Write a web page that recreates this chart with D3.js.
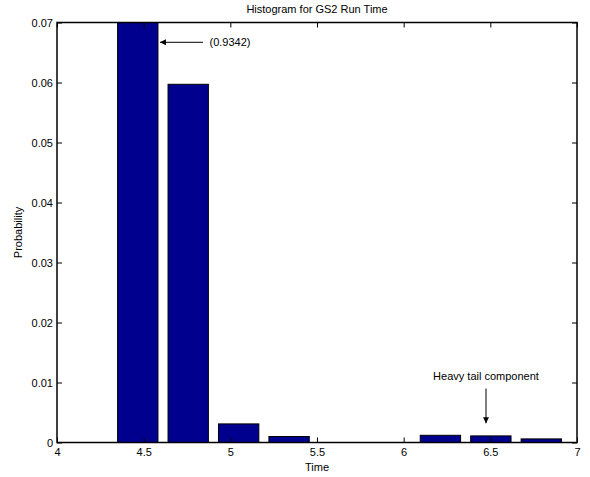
<!DOCTYPE html>
<html>
<head>
<meta charset="utf-8">
<script src="https://cdn.jsdelivr.net/npm/d3@7"></script>
<style>
  body { margin: 0; background: #fff; }
  svg { display: block; font-family: "Liberation Sans", Arial, Helvetica, sans-serif; }
</style>
</head>
<body>
<svg id="chart" width="590" height="477"></svg>
<script>
// bin centres and probabilities (second bin is really 0.9342, clipped by the axis)
const binCenters = [4.175, 4.466, 4.757, 5.048, 5.339, 5.63, 5.921, 6.212, 6.503, 6.794];
const probs = [0.0, 0.9342, 0.0597, 0.0031, 0.001, 0.0, 0.0, 0.0012, 0.0011, 0.0006];
const xTicks = [4, 4.5, 5, 5.5, 6, 6.5, 7];
const yTicks = [0, 0.01, 0.02, 0.03, 0.04, 0.05, 0.06, 0.07];

const W = 590, H = 477;
const margin = { top: 22.5, right: 13, bottom: 34.5, left: 57 };
const iw = W - margin.left - margin.right;
const ih = H - margin.top - margin.bottom;

const svg = d3.select("#chart");
const g = svg.append("g").attr("transform", `translate(${margin.left},${margin.top})`);

const x = d3.scaleLinear().domain([4, 7]).range([0, iw]);
const y = d3.scaleLinear().domain([0, 0.07]).range([ih, 0]);

const binW = binCenters[1] - binCenters[0];
const barW = binW * 0.8;

// clip path so the tall bar gets cut at the top
g.append("clipPath").attr("id", "plotclip")
  .append("rect").attr("width", iw).attr("height", ih);

g.append("g").attr("clip-path", "url(#plotclip)")
  .selectAll("rect")
  .data(binCenters)
  .join("rect")
  .attr("x", d => x(d - barW / 2))
  .attr("width", d => x(d + barW / 2) - x(d - barW / 2))
  .attr("y", (d, i) => y(Math.min(probs[i], 0.08)))
  .attr("height", (d, i) => y(0) - y(Math.min(probs[i], 0.08)))
  .attr("fill", "#00008f")
  .attr("stroke", "#000")
  .attr("stroke-width", 1);

// axes: ticks pointing inwards, mirrored on top/right (matlab box)
const fmt = d => d === 0 ? "0" : d3.format(".2f")(d);
const axisStyle = sel => {
  sel.select(".domain").remove();
  sel.selectAll("text").attr("font-size", 11).attr("fill", "#000")
    .attr("font-family", "'Liberation Sans', Arial, sans-serif");
  sel.selectAll("line").attr("stroke", "#000");
};

g.append("g").attr("transform", `translate(0,${ih})`)
  .call(d3.axisBottom(x).tickValues(xTicks).tickSizeInner(-5).tickSizeOuter(0).tickPadding(6).tickFormat(d3.format("")))
  .call(axisStyle);
g.append("g")
  .call(d3.axisTop(x).tickValues(xTicks).tickSizeInner(-5).tickSizeOuter(0).tickFormat(""))
  .call(axisStyle);
g.append("g")
  .call(d3.axisLeft(y).tickValues(yTicks).tickSizeInner(-5).tickSizeOuter(0).tickPadding(4).tickFormat(fmt))
  .call(axisStyle);
g.append("g").attr("transform", `translate(${iw},0)`)
  .call(d3.axisRight(y).tickValues(yTicks).tickSizeInner(-5).tickSizeOuter(0).tickFormat(""))
  .call(axisStyle);

g.append("rect")
  .attr("width", iw).attr("height", ih)
  .attr("fill", "none").attr("stroke", "#000").attr("stroke-width", 1.5);

// labels
svg.append("text")
  .attr("x", margin.left + iw / 2).attr("y", 13)
  .attr("text-anchor", "middle").attr("font-size", 11)
  .text("Histogram for GS2 Run Time");
svg.append("text")
  .attr("x", margin.left + iw / 2).attr("y", 471)
  .attr("text-anchor", "middle").attr("font-size", 11)
  .text("Time");
svg.append("text")
  .attr("transform", `translate(22,${margin.top + ih / 2}) rotate(-90)`)
  .attr("text-anchor", "middle").attr("font-size", 11)
  .text("Probability");

// arrowheads
svg.append("defs").append("marker")
  .attr("id", "arrow").attr("viewBox", "0 0 10 10")
  .attr("refX", 10).attr("refY", 5)
  .attr("markerWidth", 8).attr("markerHeight", 6)
  .attr("markerUnits", "userSpaceOnUse")
  .attr("orient", "auto")
  .append("path").attr("d", "M0,0L10,5L0,10z").attr("fill", "#000");

// (0.9342) note
g.append("line")
  .attr("x1", x(4.842)).attr("y1", y(0.0667))
  .attr("x2", x(4.594)).attr("y2", y(0.0667))
  .attr("stroke", "#000").attr("stroke-width", 1)
  .attr("marker-end", "url(#arrow)");
g.append("text")
  .attr("x", x(4.88)).attr("y", y(0.0667)).attr("dy", "0.35em")
  .attr("font-size", 11)
  .text("(" + probs[1] + ")");

// heavy tail note
g.append("line")
  .attr("x1", x(6.475)).attr("y1", y(0.009))
  .attr("x2", x(6.475)).attr("y2", y(0.0032))
  .attr("stroke", "#000").attr("stroke-width", 1)
  .attr("marker-end", "url(#arrow)");
g.append("text")
  .attr("x", x(6.475)).attr("y", y(0.0111)).attr("dy", "0.35em")
  .attr("text-anchor", "middle").attr("font-size", 11)
  .text("Heavy tail component");
</script>
</body>
</html>
